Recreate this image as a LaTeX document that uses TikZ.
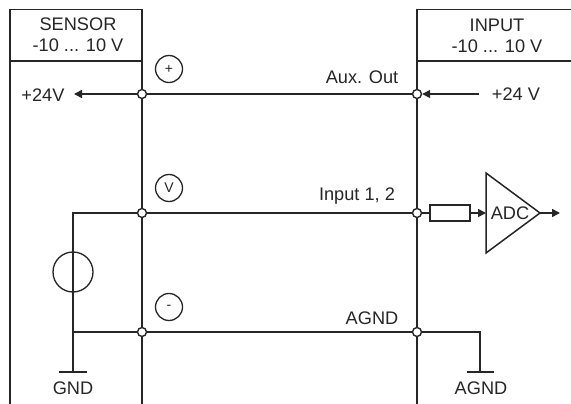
\documentclass[tikz,border=0pt]{standalone}
\usepackage{fontspec}
\setmainfont{Liberation Sans}
\usetikzlibrary{arrows.meta}
\definecolor{ink}{HTML}{262626}
\tikzset{
  wire/.style={draw=ink,line width=1.5pt},
  thin wire/.style={draw=ink,line width=1.3pt},
  tipped/.style={wire,-{Triangle[length=8pt,width=8pt]}},
  junction/.style={circle,draw=ink,fill=white,line width=1.4pt,minimum size=9pt,inner sep=0pt},
  label/.style={text=ink,font=\fontsize{18.2pt}{21pt}\selectfont,inner sep=0pt,align=center},
  pin/.style={circle,draw=ink,line width=1.3pt,minimum size=27pt,inner sep=0pt,text=ink,font=\fontsize{14pt}{14pt}\selectfont},
}
\begin{document}
\begin{tikzpicture}[x=1pt,y=-1pt]
\useasboundingbox (0,0) rectangle (571,404);
\fill[white] (0,0) rectangle (571,404);
% box outlines
\coordinate (lb) at (10,404);
\coordinate (ltl) at (10,9.5);
\coordinate (ltr) at (142,9.5);
\coordinate (lhl) at (10,61);
\coordinate (lhr) at (142,61);
\coordinate (rtl) at (417,9.5);
\coordinate (rtr) at (571,9.5);
\coordinate (rhl) at (417,61);
\coordinate (rhr) at (571,61);
\coordinate (lbus) at (142,404);
\coordinate (rbus) at (417,404);
\draw[wire] (lb) -- (ltl) -- (ltr) -- (lbus);
\draw[wire] (lhl) -- (lhr);
\draw[wire] (rtr) -- (rtl) -- (rbus);
\draw[wire] (rhl) -- (rhr);
% junctions
\node[junction] (j1) at (142,94) {};
\node[junction] (j2) at (142,213) {};
\node[junction] (j3) at (142,332) {};
\node[junction] (k1) at (417,94) {};
\node[junction] (k2) at (417,213) {};
\node[junction] (k3) at (417,332) {};
% labels
\node[label] (sensor) at (78,34.5) {SENSOR\\-10 ... 10 V};
\node[label] (input) at (497,35.5) {INPUT\\-10 ... 10 V};
\node[label] (leftp) at (43,95) {+24V};
\node[label] (rightp) at (516,94) {+24 V};
\node[label] (aux) at (362,77) {Aux. Out};
\node[label] (in12) at (357,196) {Input 1, 2};
\node[label] (agnd) at (372,318) {AGND};
\node[label] (gnd) at (73,388) {GND};
\node[label] (agnd2) at (481,388) {AGND};
% pins
\node[pin] (pp) at (169,69) {+};
\node[pin] (pv) at (169,188) {V};
\node[pin] (pm) at (169,307) {-};
% source and grounds
\coordinate (st) at (73,213);
\coordinate (sb) at (73,332);
\coordinate (g1) at (73,372);
\coordinate (g1l) at (59,372);
\coordinate (g1r) at (87,372);
\coordinate (as) at (480,332);
\coordinate (g2) at (480,372);
\coordinate (g2l) at (467,372);
\coordinate (g2r) at (494,372);
\node[circle,draw=ink,line width=1.3pt,minimum size=40pt,inner sep=0pt] (src) at (73,272) {};
% wires
\coordinate (ltip) at (74,94);
\coordinate (rs) at (479,94);
\draw[wire] (j1) -- (k1);
\draw[wire] (j2) -- (k2);
\draw[wire] (j3) -- (k3);
\draw[tipped] (j1) -- (ltip);
\draw[tipped] (rs) -- (k1);
\draw[thin wire] (j2) -- (st) -- (src.north);
\draw[thin wire] (src.north) -- (src.south);
\draw[thin wire] (src.south) -- (g1);
\draw[thin wire] (sb) -- (j3);
\draw[thin wire] (g1l) -- (g1r);
\draw[thin wire] (k3) -- (as) -- (g2);
\draw[thin wire] (g2l) -- (g2r);
% ADC path
\node[draw=ink,line width=1.3pt,minimum width=40pt,minimum height=16pt,inner sep=0pt,fill=white] (res) at (450,213) {};
\coordinate (ta) at (486,173);
\coordinate (tb) at (486,253);
\coordinate (tc) at (540,213);
\coordinate (ti) at (486,213);
\coordinate (to) at (560,213);
\draw[wire,line join=miter] (ta) -- (tc) -- (tb) -- cycle;
\node[label] (adc) at (510,213) {ADC};
\draw[wire] (k2) -- (res);
\draw[tipped] (res) -- (ti);
\draw[tipped] (tc) -- (to);
\end{tikzpicture}
\end{document}
